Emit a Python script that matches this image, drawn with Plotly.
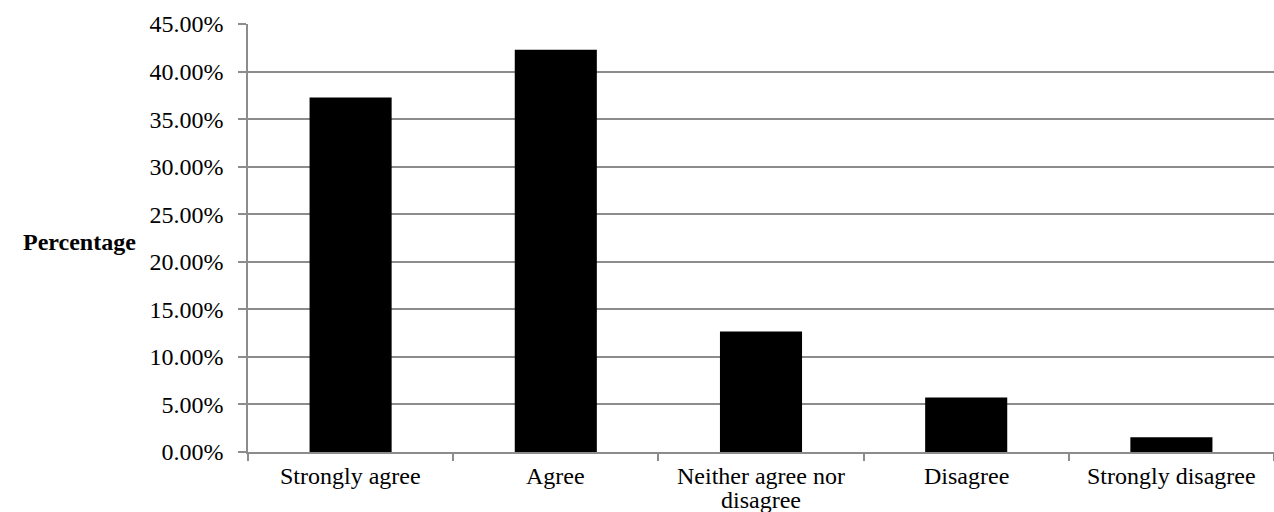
import plotly.graph_objects as go

categories = ["Strongly agree", "Agree", "Neither agree nor<br>disagree", "Disagree", "Strongly disagree"]
percentages = [37.28, 42.30, 12.68, 5.74, 1.54]
y_ticks = [0, 5, 10, 15, 20, 25, 30, 35, 40, 45]
y_tick_labels = ["0.00%", "5.00%", "10.00%", "15.00%", "20.00%", "25.00%", "30.00%", "35.00%", "40.00%", "45.00%"]

FONT = "Liberation Serif, Times New Roman, serif"
GRID = "#8c8c8c"

fig = go.Figure(go.Bar(x=categories, y=percentages, marker=dict(color="black", line=dict(width=0))))

fig.update_layout(
    width=1274, height=512,
    margin=dict(l=248, r=0, t=24, b=60),
    plot_bgcolor="white", paper_bgcolor="white",
    bargap=0.6, showlegend=False,
    font=dict(family=FONT, size=24, color="black"),
)
fig.update_xaxes(
    automargin=False, showticklabels=False,
    showgrid=False, showline=True, linecolor=GRID, linewidth=1.5,
    ticks="outside", tickson="boundaries", ticklen=7, tickcolor=GRID, tickwidth=1.5,
)
fig.update_yaxes(
    automargin=False,
    range=[0, 45], tickvals=y_ticks, ticktext=y_tick_labels,
    showgrid=True, gridcolor=GRID, gridwidth=1.5,
    showline=True, linecolor=GRID, linewidth=1.5,
    ticks="outside", ticklen=8, tickcolor=GRID, tickwidth=1.5,
    ticklabelstandoff=10, zeroline=False,
    tickfont=dict(family=FONT, size=24, color="black"),
)
# category labels as text lines with tight line spacing
for cat in categories:
    for i, line in enumerate(cat.split("<br>")):
        fig.add_annotation(
            text=line, x=cat, xref="x", y=0, yref="paper",
            xanchor="center", yanchor="middle", yshift=-(24 + 24 * i),
            showarrow=False, font=dict(family=FONT, size=24, color="black"),
        )
fig.add_annotation(
    text="<b>Percentage</b>", xref="paper", yref="paper", x=-0.164, y=0.49,
    xanchor="center", yanchor="middle", showarrow=False,
    font=dict(family=FONT, size=24, color="black"),
)

fig.write_html("out.html")
